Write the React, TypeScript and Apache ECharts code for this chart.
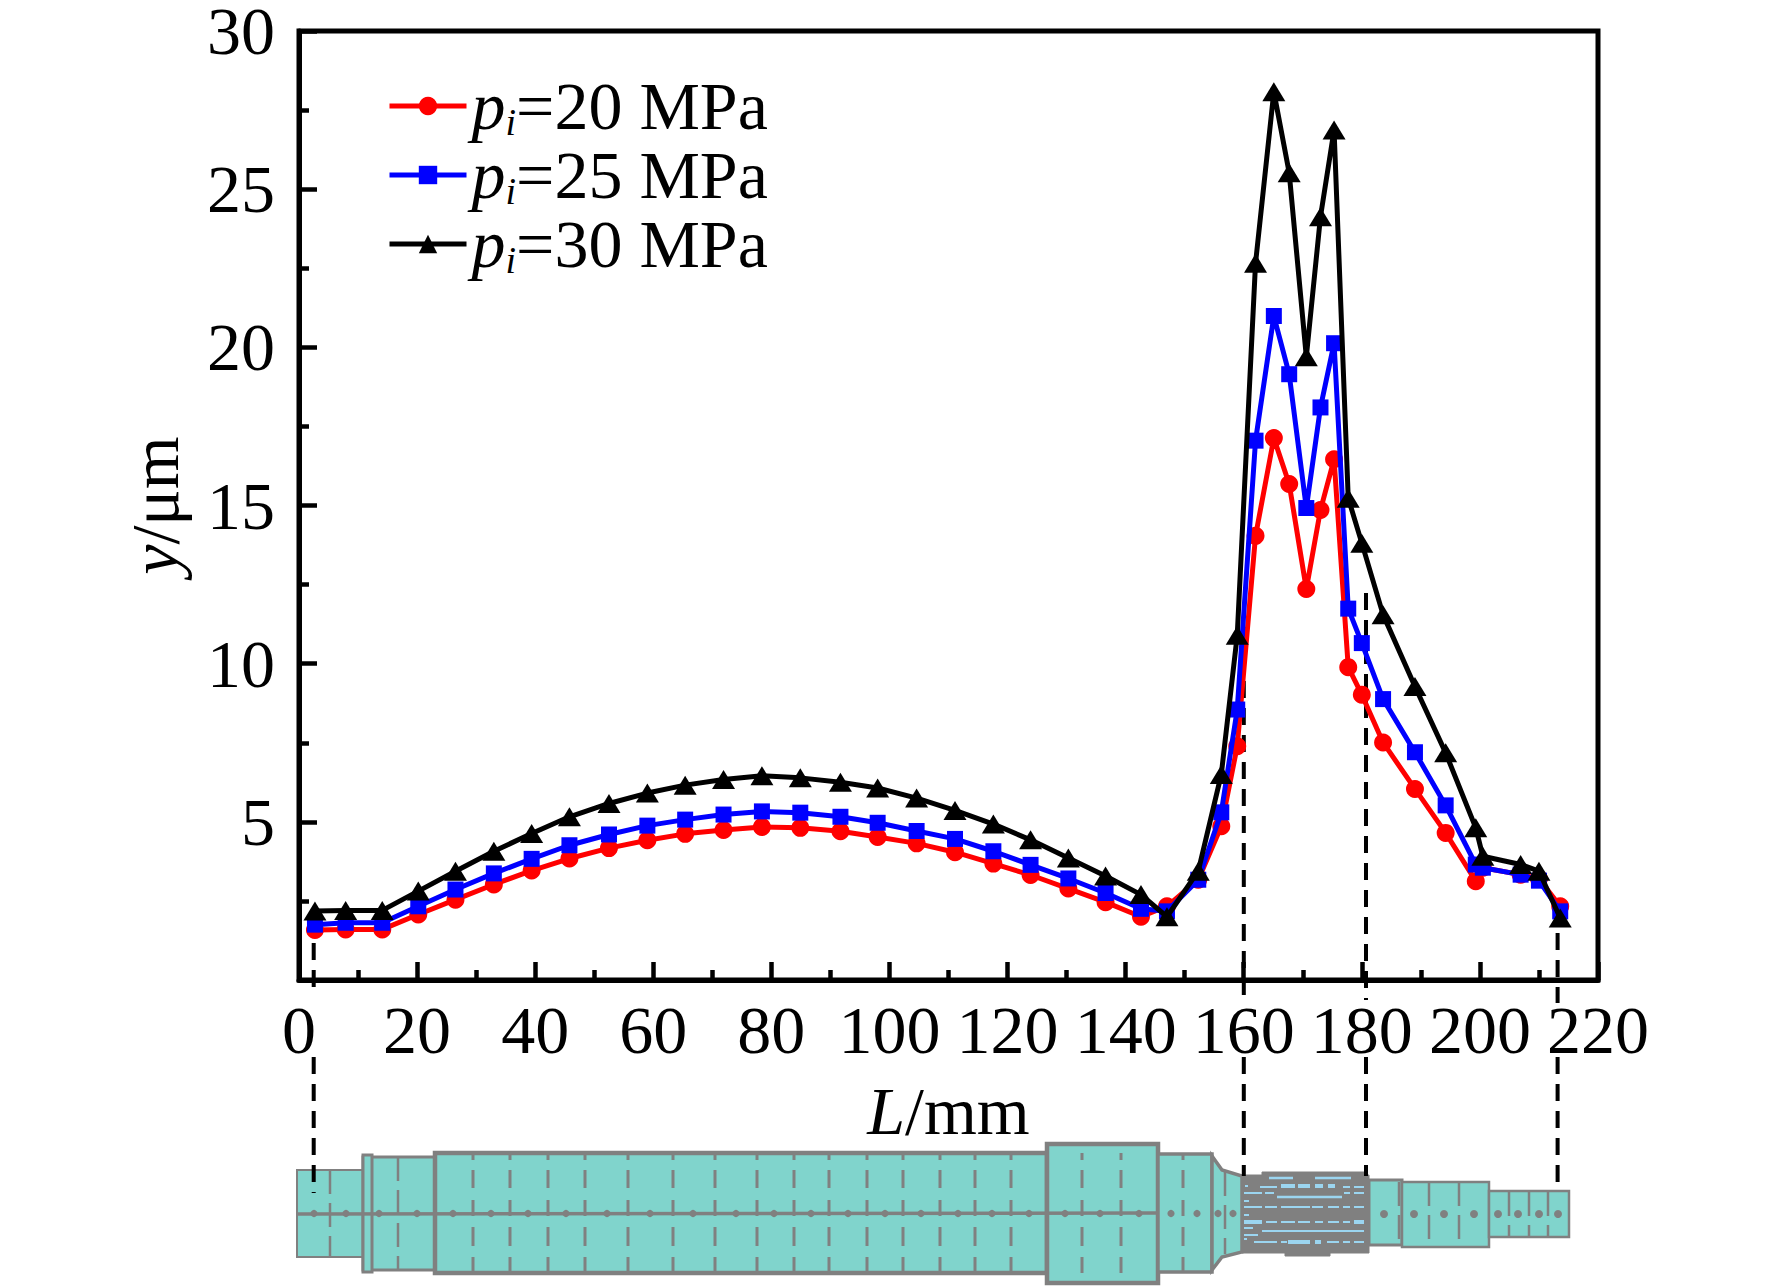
import React, { useEffect, useRef } from "react";
import * as echarts from "echarts";

const positions = [2.7,7.9,14.1,20.2,26.5,33,39.4,45.8,52.5,59,65.4,71.9,78.4,84.9,91.7,98,104.6,111.1,117.6,123.9,130.3,136.6,142.6,147,152.3,156.2,158.9,162,165.1,167.7,170.6,173,175.3,177.7,180,183.6,189,194.2,199.3,200.5,206.9,210,213.6];
const valuesP20 = [1.58,1.6,1.6,2.07,2.54,3.02,3.46,3.84,4.17,4.42,4.62,4.74,4.84,4.81,4.7,4.52,4.32,4.04,3.68,3.32,2.89,2.46,2.0,2.33,3.17,4.86,7.39,14.04,17.13,15.68,12.36,14.86,16.46,9.89,9.02,7.51,6.04,4.65,3.12,3.55,3.33,3.2,2.33];
const valuesP25 = [1.75,1.81,1.81,2.33,2.86,3.37,3.83,4.26,4.6,4.88,5.07,5.23,5.33,5.29,5.16,4.97,4.71,4.46,4.07,3.64,3.21,2.75,2.25,2.17,3.17,5.3,8.55,17.05,20.99,19.15,14.92,18.1,20.13,11.74,10.65,8.88,7.2,5.52,3.65,3.55,3.33,3.14,2.17];
const valuesP30 = [2.18,2.2,2.2,2.81,3.44,4.07,4.63,5.16,5.58,5.91,6.16,6.34,6.46,6.39,6.25,6.07,5.75,5.36,4.93,4.43,3.86,3.29,2.7,2.0,3.44,6.5,10.9,22.66,28.08,25.52,19.7,24.13,26.87,15.23,13.81,11.55,9.28,7.18,4.81,3.91,3.65,3.44,1.96];
const seriesNames = ["20 MPa", "25 MPa", "30 MPa"];

const FONT = "Liberation Serif";
const GRAY = "#808080";
const TEAL = "#80D4CC";
const ICE = "#9BD5F0";

const pair = (vals: number[]) => vals.map((v, i) => [positions[i], v]);

function line(x1: number, y1: number, x2: number, y2: number, stroke: string, lineWidth: number, lineDash?: number[]) {
  return { type: "line", silent: true, z: 1, shape: { x1, y1, x2, y2 }, style: { stroke, lineWidth, lineDash, fill: null } };
}
function box(x: number, y: number, w: number, h: number, fill: string, stroke: string, lineWidth: number) {
  return { type: "rect", silent: true, z: 1, shape: { x, y, width: w, height: h }, style: { fill, stroke, lineWidth } };
}

const shaftBodies = [
  [297, 1170, 66, 87, 2],
  [363, 1157, 72, 113, 3],
  [435, 1153, 612, 120, 4.5],
  [1047, 1144, 111, 139, 4.5],
  [1158, 1154, 54, 118, 3.5],
  [1369, 1180, 33, 65, 3],
  [1402, 1182, 87, 65, 2.5],
  [1489, 1191, 80, 46, 2.5],
];
const threadBlocks = [
  [1242, 1175, 127, 78],
  [1262, 1172, 103, 4],
  [1285, 1252, 45, 4],
];
const iceDashes = [
  [1269,1293,1178,2.5],[1315,1351,1178,2.5],
  [1245,1248,1186,2],[1260,1277,1187,2],[1281,1295,1186,4],[1298,1310,1186,4],[1315,1323,1186,4],[1328,1335,1186,4],[1343,1350,1187,2],[1354,1364,1187,2],
  [1244,1262,1193,2],[1265,1274,1193,2],[1344,1350,1193,2],[1354,1364,1193,2],
  [1277,1342,1197,2.5],
  [1244,1249,1201,2],
  [1244,1262,1207,2],[1265,1277,1207,2],[1281,1310,1207,2],[1312,1323,1207,2],[1328,1339,1207,2],[1343,1350,1207,2],[1354,1364,1207,2],
  [1244,1249,1215,2],
  [1244,1262,1222,4],[1266,1277,1222,2],[1281,1295,1222,2],[1298,1310,1222,2],[1315,1323,1222,2],[1328,1339,1222,2],[1343,1350,1222,2],[1354,1364,1222,4],
  [1244,1253,1228,2],
  [1262,1364,1231,2],
  [1244,1258,1235,2],
  [1244,1247,1239,2],
  [1254,1277,1242,2],[1281,1287,1242,2],[1288,1310,1242,4],[1315,1321,1242,4],[1327,1339,1242,2],[1343,1350,1242,2],[1354,1364,1242,2],
];
const dashedGuides = [
  [313.7, 943, 996], [313.7, 1057, 1193],
  [1243.8, 627, 1000], [1243.8, 1057, 1176],
  [1366, 593, 1000], [1366, 1057, 1176],
  [1557.6, 933, 1003], [1557.6, 1057, 1192],
];
const longBays = [473,510,548,585,628,673,715,757,794,829,867,903,940,975,1011,1082,1121,1183];
const bayRuns = [[1153,1160],[1170,1188],[1200,1216],[1227,1246],[1257,1273]];
const shortBayMarks = [
  [330, 1170, 1257], [398, 1157, 1270], [1225, 1172, 1254], [1399, 1182, 1245], [1429, 1182, 1247], [1459, 1182, 1247],
  [1509, 1192, 1236], [1529, 1192, 1236], [1548, 1192, 1236],
];
const hubDots = [314,346,379,417,453,491,528,566,607,650,693,736,774,811,848,885,921,958,992,1029,1065,1100,1139,1171,1197,1218,1233];
const noseDots = [1384,1414,1444,1474,1498,1518,1539,1558];

function schematic() {
  const out: any[] = [];
  shaftBodies.forEach(([x, y, w, h, lw]) => out.push(box(x, y, w, h, TEAL, GRAY, lw)));
  out.push({ type: "polygon", silent: true, z: 1, shape: { points: [[1212,1156],[1222,1170],[1242,1176],[1242,1252],[1222,1257],[1212,1270]] }, style: { fill: TEAL, stroke: GRAY, lineWidth: 3.5 } });
  out.push(box(363, 1155, 9, 117, TEAL, GRAY, 3));
  threadBlocks.forEach(([x, y, w, h]) => out.push(box(x, y, w, h, GRAY, GRAY, 1)));
  iceDashes.forEach(([x1, x2, y, w]) => out.push(line(x1, y, x2, y, ICE, w)));
  longBays.forEach((x) => bayRuns.forEach(([a, b]) => out.push(line(x, a, x, b, GRAY, 3))));
  shortBayMarks.forEach(([x, y1, y2]) => out.push(line(x, y1, x, y2, GRAY, 2.5, [24, 9])));
  out.push(line(297, 1214, 1158, 1213, GRAY, 3.5));
  hubDots.forEach((x) => out.push({ type: "circle", silent: true, z: 1, shape: { cx: x, cy: 1213.5, r: 3.6 }, style: { fill: GRAY } }));
  noseDots.forEach((x) => out.push({ type: "circle", silent: true, z: 1, shape: { cx: x, cy: 1214, r: 4 }, style: { fill: GRAY } }));
  dashedGuides.forEach(([x, y1, y2]) => out.push(line(x, y1, x, y2, "#000", 4, [17, 10])));
  return out;
}

const markerStyles = [
  { symbol: "circle", symbolSize: 18, color: "#FF0000" },
  { symbol: "rect", symbolSize: 16, color: "#0000FF" },
  { symbol: "triangle", symbolSize: [23, 19], color: "#000000" },
];

export default function App() {
  const ref = useRef<HTMLDivElement>(null);
  useEffect(() => {
    document.body.style.margin = "0";
    const chart = echarts.init(ref.current!, undefined, { renderer: "svg" });
    const data = [valuesP20, valuesP25, valuesP30];
    chart.setOption({
      animation: false,
      backgroundColor: "#fff",
      textStyle: { fontFamily: FONT },
      grid: { left: 299, top: 31, width: 1299, height: 949, show: true, outerBoundsMode: "none", borderColor: "#000", borderWidth: 5, backgroundColor: "transparent" },
      legend: {
        left: 382, top: 67, orient: "vertical", itemWidth: 77, itemHeight: 23, itemGap: 0, itemStyle: {},
        lineStyle: { width: 5 },
        data: seriesNames,
        formatter: (n: string) => `{p|p}{i|i}{t|=${n}}`,
        textStyle: {
          fontFamily: FONT, color: "#000", fontSize: 68,
          rich: {
            p: { fontFamily: FONT, fontStyle: "italic", fontSize: 68, color: "#000", lineHeight: 70 },
            i: { fontFamily: FONT, fontStyle: "italic", fontSize: 38, color: "#000", verticalAlign: "bottom", lineHeight: 20 },
            t: { fontFamily: FONT, fontSize: 68, color: "#000", lineHeight: 70 },
          },
        },
      },
      xAxis: {
        type: "value", min: 0, max: 220, interval: 20,
        name: "{a|L}{b|/mm}", nameLocation: "middle", nameGap: 97,
        nameTextStyle: { rich: { a: { fontFamily: FONT, fontStyle: "italic", fontSize: 68, color: "#000" }, b: { fontFamily: FONT, fontSize: 68, color: "#000" } } },
        axisLine: { show: true, onZero: false, lineStyle: { color: "#000", width: 5 } },
        axisTick: { show: true, inside: true, length: 18, lineStyle: { color: "#000", width: 4.5 } },
        minorTick: { show: true, splitNumber: 2, length: 10, lineStyle: { color: "#000", width: 4.5 } },
        axisLabel: { fontFamily: FONT, fontSize: 68, color: "#000", margin: 16, hideOverlap: false, showMinLabel: true, showMaxLabel: true },
        splitLine: { show: false },
      },
      yAxis: {
        type: "value", min: 0, max: 30, interval: 5,
        name: "{a|y}{b|/μm}", nameLocation: "middle", nameGap: 110, nameRotate: 90,
        nameTextStyle: { rich: { a: { fontFamily: FONT, fontStyle: "italic", fontSize: 68, color: "#000" }, b: { fontFamily: FONT, fontSize: 68, color: "#000" } } },
        axisLine: { show: true, onZero: false, lineStyle: { color: "#000", width: 5 } },
        axisTick: { show: true, inside: true, length: 18, lineStyle: { color: "#000", width: 4.5 } },
        minorTick: { show: true, splitNumber: 2, length: 10, lineStyle: { color: "#000", width: 4.5 } },
        axisLabel: { fontFamily: FONT, fontSize: 68, lineHeight: 50, color: "#000", margin: 24, formatter: (v: number) => (v === 0 ? "" : String(v)) },
        splitLine: { show: false },
      },
      series: seriesNames.map((name, i) => ({
        name, type: "line", data: pair(data[i]), z: 3 + i,
        symbol: markerStyles[i].symbol, symbolSize: markerStyles[i].symbolSize, showSymbol: true, showAllSymbol: true,
        lineStyle: { color: markerStyles[i].color, width: 5 },
        itemStyle: { color: markerStyles[i].color },
        clip: false,
      })),
      graphic: { elements: schematic() },
    });
    return () => chart.dispose();
  }, []);
  return <div ref={ref} style={{ width: 1772, height: 1286 }} />;
}
